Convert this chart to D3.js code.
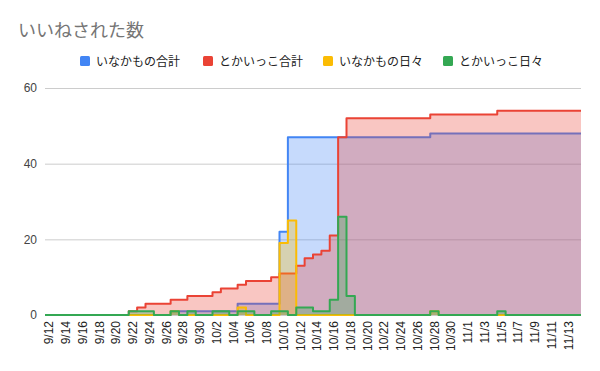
<!DOCTYPE html>
<html>
<head>
<meta charset="utf-8">
<script src="https://cdn.jsdelivr.net/npm/d3@7/dist/d3.min.js"></script>
<style>
  body { margin: 0; background: #fff; }
  svg { display: block; }
</style>
</head>
<body>
<script>
// Categories (one per day)
var dates = ['9/12','9/13','9/14','9/15','9/16','9/17','9/18','9/19','9/20','9/21',
             '9/22','9/23','9/24','9/25','9/26','9/27','9/28','9/29','9/30','10/1',
             '10/2','10/3','10/4','10/5','10/6','10/7','10/8','10/9','10/10','10/11',
             '10/12','10/13','10/14','10/15','10/16','10/17','10/18','10/19','10/20','10/21',
             '10/22','10/23','10/24','10/25','10/26','10/27','10/28','10/29','10/30','10/31',
             '11/1','11/2','11/3','11/4','11/5','11/6','11/7','11/8','11/9','11/10',
             '11/11','11/12','11/13','11/14'];

// Series values
var inakaTotal = [0,0,0,0,0,0,0,0,0,0, 0,0,0,0,0,1,1,1,1,1, 1,1,1,3,3,3,3,3,22,47,
                  47,47,47,47,47,47,47,47,47,47, 47,47,47,47,47,47,48,48,48,48,
                  48,48,48,48,48,48,48,48,48,48, 48,48,48,48];
var tokaiTotal = [0,0,0,0,0,0,0,0,0,0, 1,2,3,3,3,4,4,5,5,5, 6,7,7,8,9,9,9,10,11,11,
                  13,15,16,17,21,47,52,52,52,52, 52,52,52,52,52,52,53,53,53,53,
                  53,53,53,53,54,54,54,54,54,54, 54,54,54,54];
var inakaDaily = [0,0,0,0,0,0,0,0,0,0, 0,0,0,0,0,1,0,0,0,0, 0,0,0,2,0,0,0,0,19,25,
                  0,0,0,0,0,0,0,0,0,0, 0,0,0,0,0,0,1,0,0,0,
                  0,0,0,0,0,0,0,0,0,0, 0,0,0,0];
var tokaiDaily = [0,0,0,0,0,0,0,0,0,0, 1,1,1,0,0,1,0,1,0,0, 1,1,0,1,1,0,0,1,1,0,
                  2,2,1,1,4,26,5,0,0,0, 0,0,0,0,0,0,1,0,0,0,
                  0,0,0,0,1,0,0,0,0,0, 0,0,0,0];

var yTicks = [0, 20, 40, 60];
var tickDates = dates.filter(function(d, i) { return i % 2 === 0; });

var seriesNames = ['いなかもの合計', 'とかいっこ合計', 'いなかもの日々', 'とかいっこ日々'];
var seriesColors = ['#4285f4', '#ea4335', '#fbbc04', '#34a853'];
var seriesData = [inakaTotal, tokaiTotal, inakaDaily, tokaiDaily];

var W = 600, H = 371;
var margin = {top: 88, right: 19, bottom: 56, left: 45};

var svg = d3.select('body').append('svg')
    .attr('width', W)
    .attr('height', H);

var x = d3.scaleBand().domain(dates).range([margin.left, W - margin.right]).padding(0);
var y = d3.scaleLinear().domain([0, 60]).range([H - margin.bottom, margin.top]);

// Title
svg.append('text')
   .attr('x', 18).attr('y', 37)
   .attr('font-family', '"Noto Sans CJK JP", sans-serif')
   .attr('font-size', 18)
   .attr('fill', '#757575')
   .text('いいねされた数');

// Gridlines + y labels
var yAxis = svg.append('g')
   .attr('transform', 'translate(' + margin.left + ',0)')
   .call(d3.axisLeft(y).tickValues(yTicks).tickSize(-(W - margin.left - margin.right)).tickPadding(8));
yAxis.select('.domain').remove();
yAxis.selectAll('line').attr('stroke', '#cccccc');
yAxis.selectAll('text')
   .attr('font-family', 'Arial, "Liberation Sans", sans-serif')
   .attr('font-size', 12)
   .attr('fill', '#444444');

// Stepped series: each category keeps its value across its whole band
function stepPoints(vals) {
  var pts = [];
  dates.forEach(function(d, i) {
    pts.push([x(d), vals[i]]);
    pts.push([x(d) + x.bandwidth(), vals[i]]);
  });
  return pts;
}

var area = d3.area()
    .x(function(p) { return p[0]; })
    .y0(y(0))
    .y1(function(p) { return y(p[1]); });
var line = d3.line()
    .x(function(p) { return p[0]; })
    .y(function(p) { return y(p[1]); });

seriesData.forEach(function(vals, k) {
  var pts = stepPoints(vals);
  svg.append('path')
     .attr('d', area(pts))
     .attr('fill', seriesColors[k])
     .attr('fill-opacity', 0.3);
  svg.append('path')
     .attr('d', line(pts))
     .attr('fill', 'none')
     .attr('stroke', seriesColors[k])
     .attr('stroke-width', 2)
     .attr('stroke-linejoin', 'round');
});

// X axis labels, rotated
var xAxis = svg.append('g')
   .attr('transform', 'translate(0,' + (H - margin.bottom) + ')')
   .call(d3.axisBottom(x).tickValues(tickDates).tickSize(0).tickPadding(0));
xAxis.select('.domain').remove();
xAxis.selectAll('text')
   .attr('font-family', 'Arial, "Liberation Sans", sans-serif')
   .attr('font-size', 12)
   .attr('fill', '#222222')
   .attr('text-anchor', 'end')
   .attr('transform', 'rotate(-90)')
   .attr('x', -6)
   .attr('y', 0)
   .attr('dy', '0.35em');

// Legend
var legendX = [80, 203, 323, 443];
var legend = svg.append('g');
seriesNames.forEach(function(name, k) {
  legend.append('rect')
     .attr('x', legendX[k]).attr('y', 56)
     .attr('width', 10).attr('height', 10)
     .attr('rx', 1.5)
     .attr('fill', seriesColors[k]);
  legend.append('text')
     .attr('x', legendX[k] + 16).attr('y', 65.5)
     .attr('font-family', '"Noto Sans CJK JP", sans-serif')
     .attr('font-size', 12)
     .attr('fill', '#222222')
     .text(name);
});
</script>
</body>
</html>
